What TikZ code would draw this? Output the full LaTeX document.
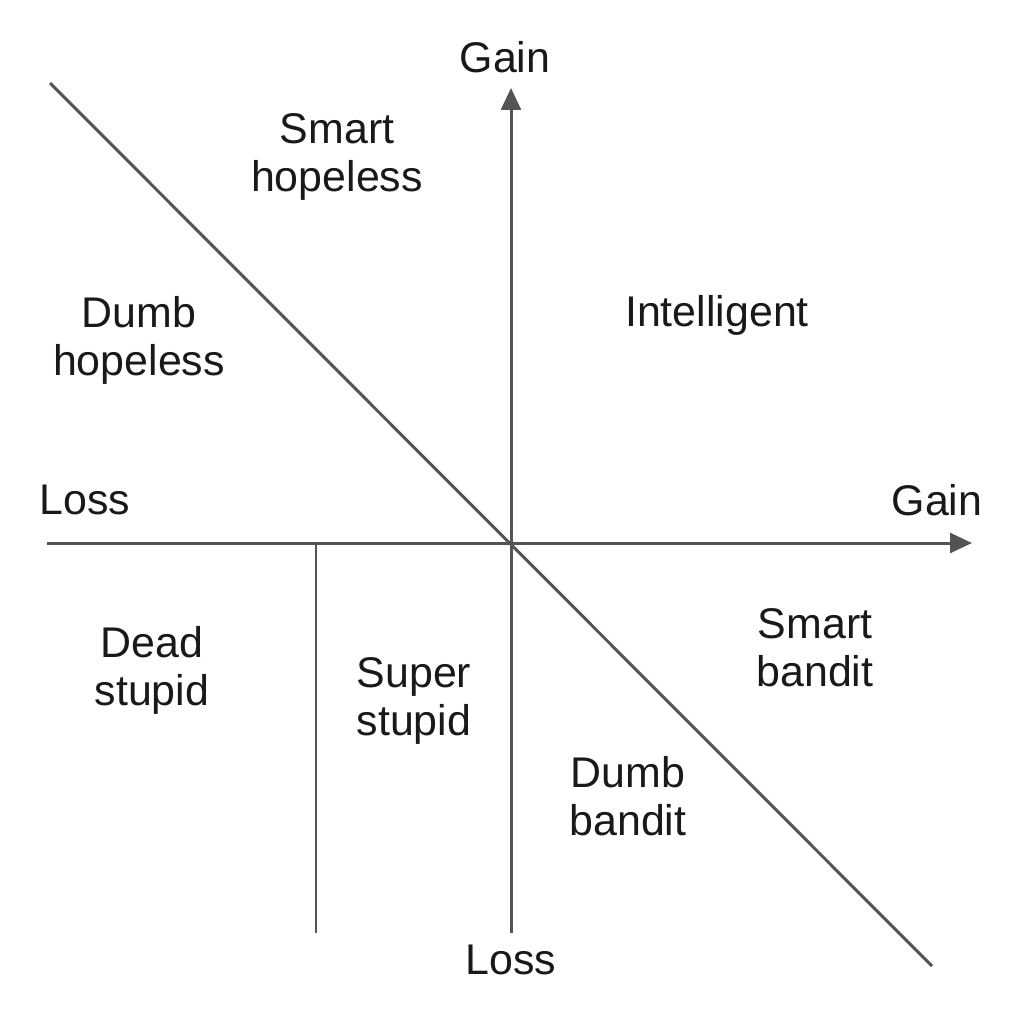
\documentclass[tikz,border=0pt]{standalone}
\usepackage{fontspec}
\setmainfont{Liberation Sans}
\usetikzlibrary{arrows.meta}
\begin{document}
\begin{tikzpicture}[x=0.01cm,y=-0.01cm,
  axis/.style={draw=black!67, line width=0.85pt},
  tip/.style={-{Triangle[length=6.2pt,width=5.6pt]}},
  lbl/.style={font=\fontsize{12.2}{13.7}\selectfont, align=center, text=black!90, inner sep=0pt}]
\useasboundingbox[fill=white] (0,0) rectangle (1024,1024);
\coordinate (hl) at (47,543);
\coordinate (hr) at (972,543);
\coordinate (vb) at (511,933);
\coordinate (vt) at (511,88);
\coordinate (dtl) at (50,83);
\coordinate (dbr) at (932,966);
\coordinate (st) at (316,543);
\coordinate (sb) at (316,933);
\draw[axis,tip] (hl) -- (hr);
\draw[axis,tip] (vb) -- (vt);
\draw[axis] (dtl) -- (dbr);
\draw[axis] (st) -- (sb);
\node[lbl] (gaint) at (505,57) {Gain};
\node[lbl] (smh) at (337,157) {Smart\\hopeless};
\node[lbl] (dmh) at (139,340) {Dumb\\hopeless};
\node[lbl] (int) at (717,315) {Intelligent};
\node[lbl] (lossl) at (85,500) {Loss};
\node[lbl] (gainr) at (937,500) {Gain};
\node[lbl] (ds) at (152,670) {Dead\\stupid};
\node[lbl] (ss) at (414,701) {Super\\stupid};
\node[lbl] (sb2) at (815,648) {Smart\\bandit};
\node[lbl] (db) at (628,796) {Dumb\\bandit};
\node[lbl] (lossb) at (511,960) {Loss};
\end{tikzpicture}
\end{document}
